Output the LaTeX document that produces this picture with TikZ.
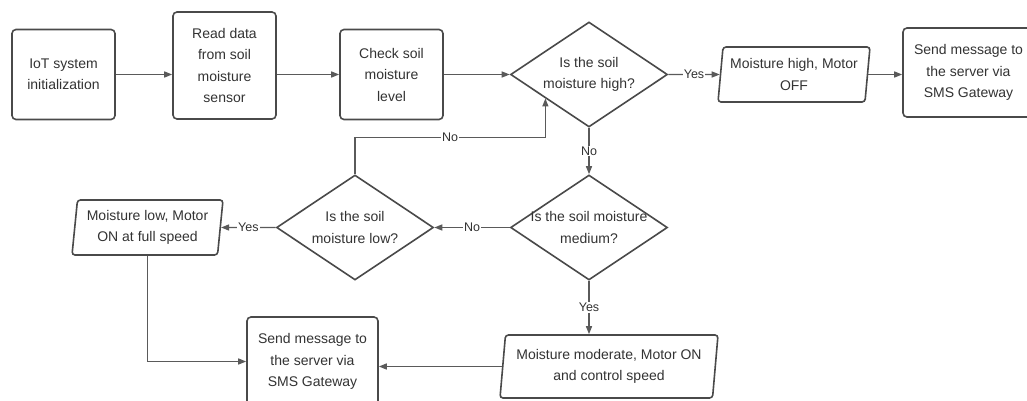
\documentclass[tikz,border=0pt]{standalone}
\usepackage{fontspec}
\setmainfont{Liberation Sans}
\usetikzlibrary{shapes.geometric,arrows.meta,calc}
\definecolor{edgec}{HTML}{4A4A4A}
\definecolor{linec}{HTML}{5A5A5A}
\definecolor{txtc}{HTML}{333333}
\begin{document}
\begin{tikzpicture}[x=1pt,y=-1pt,
  txt/.style={text=txtc,font=\fontsize{14}{21.5}\selectfont,align=center},
  box/.style={txt,draw=edgec,line width=1.6pt,rounded corners=4pt,
    minimum width=103pt,minimum height=90pt,inner sep=0pt},
  dia/.style={diamond,draw=edgec,line width=1.6pt,inner sep=0pt,
    minimum width=157pt,minimum height=105pt},
  dtxt/.style={txt,inner sep=0pt},
  para/.style={txt,trapezium,trapezium left angle=81,trapezium right angle=99,
    trapezium stretches body,draw=edgec,line width=1.6pt,rounded corners=3pt,
    inner sep=0pt,minimum height=55pt},
  arr/.style={draw=linec,line width=1.3pt,-{Triangle[length=8pt,width=6pt]}},
  lbl/.style={fill=white,text=txtc,font=\fontsize{12.5}{14}\selectfont,inner sep=1pt}
]
\useasboundingbox[fill=white] (0,0) rectangle (1027,401);

% top row
\node[box] (init) at (63.5,74.5) {IoT system\\initialization};
\node[box,minimum height=107pt] (read) at (224.5,65.5) {Read data\\from soil\\moisture\\sensor};
\node[box] (check) at (391.5,74.5) {Check soil\\moisture\\level};
\node[dia,label={[dtxt]center:Is the soil\\moisture high?}] (high) at (589,74.5) {};
\node[para,minimum width=152pt] (off) at (794,74.5) {Moisture high, Motor\\OFF};
\node[box,minimum width=131pt,minimum height=89pt] (smsA) at (968.5,72.5) {Send message to\\the server via\\SMS Gateway};

% middle row
\node[dia,label={[dtxt]center:Is the soil moisture\\medium?}] (med) at (589,227.5) {};
\node[dia,label={[dtxt]center:Is the soil\\moisture low?}] (low) at (355,227.5) {};
\node[para,minimum width=151pt] (full) at (147.5,227.5) {Moisture low, Motor\\ON at full speed};

% bottom row
\node[box,minimum width=131pt,minimum height=89pt] (smsB) at (312.5,361.5) {Send message to\\the server via\\SMS Gateway};
\node[para,minimum width=218pt,minimum height=63pt] (mod) at (609,366.5) {Moisture moderate, Motor ON\\and control speed};

% connectors
\draw[arr] (init.east) -- (init.east -| read.west);
\draw[arr] (check.west -| read.east) -- (check.west);
\draw[arr] (check.east) -- (high.west);
\draw[arr] (high.east) -- node[lbl]{Yes} (off.west);
\draw[arr] (off.east) -- (off.east -| smsA.west);
\draw[arr] (high.south) -- node[lbl]{No} (med.north);
\draw[arr] (med.west) -- node[lbl]{No} (low.east);
\draw[arr] (low.west) -- node[lbl]{Yes} (full.east);
\coordinate (back) at ($(high.west)!0.45!(high.south)$);
\draw[arr] (low.north) |- node[lbl,pos=0.75]{No} ($(back)+(0,39)$) -- (back);
\draw[arr] (med.south) -- node[lbl]{Yes} (med.south |- mod.north);
\draw[arr] (full.south) |- (smsB.west);
\draw[arr] (mod.west) -- (mod.west -| smsB.east);
\end{tikzpicture}
\end{document}
